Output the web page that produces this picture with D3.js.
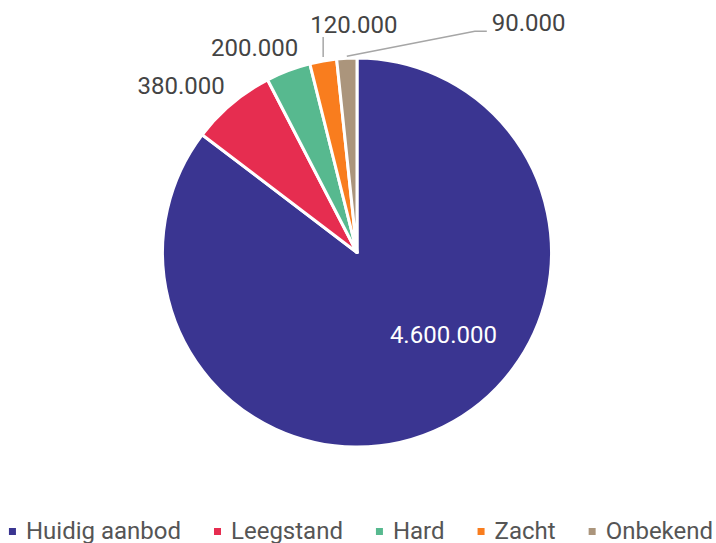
<!DOCTYPE html>
<html>
<head>
<meta charset="utf-8">
<script src="https://cdn.jsdelivr.net/npm/d3@7"></script>
<style>
  body { margin: 0; background: #fff; }
  text { font-family: Roboto, "Noto Sans", sans-serif; }
</style>
</head>
<body>
<div id="chart"></div>
<script>
const width = 716;
const height = 543;

// data
const categories = ["Huidig aanbod", "Leegstand", "Hard", "Zacht", "Onbekend"];
const values = [4600000, 380000, 200000, 120000, 90000];
const valueLabels = ["4.600.000", "380.000", "200.000", "120.000", "90.000"];
const colors = ["#3a3591", "#e62d50", "#57b98f", "#f97d1e", "#ab957c"];

// label placement relative to the slice's outer-edge midpoint
const labelLayout = [
    { dx: 0, dy: -84, anchor: "middle", fill: "#fff", leader: null },
    { dx: -7, dy: -10, anchor: "end", fill: "#444", leader: null },
    { dx: 10, dy: -15, anchor: "end", fill: "#444", leader: null },
    { dx: -13, dy: -28, anchor: "start", fill: "#444", leader: [[0, -4], [0, -24]] },
    { dx: 145, dy: -27, anchor: "start", fill: "#444", leader: [[0, -2], [128, -27], [140, -27]] }
];

const cx = 357;
const cy = 252.5;
const radius = 194.5;

const svg = d3.select("#chart")
    .append("svg")
    .attr("width", width)
    .attr("height", height);

const data = categories.map((c, i) => ({ category: c, value: values[i], label: valueLabels[i], i: i }));

const pie = d3.pie()
    .value(d => d.value)
    .sort(null);

const arcs = pie(data);

const arc = d3.arc()
    .innerRadius(0)
    .outerRadius(radius);

const edgeArc = d3.arc()
    .innerRadius(radius)
    .outerRadius(radius);

const color = d3.scaleOrdinal()
    .domain(categories)
    .range(colors);

const g = svg.append("g")
    .attr("transform", `translate(${cx},${cy})`);

g.selectAll("path.slice")
    .data(arcs)
    .enter()
    .append("path")
    .attr("class", "slice")
    .attr("d", arc)
    .attr("fill", d => color(d.data.category))
    .attr("stroke", "#fff")
    .attr("stroke-width", 3)
    .attr("stroke-linejoin", "round");

// leader lines
arcs.forEach((d, i) => {
    const lay = labelLayout[i];
    if (!lay.leader) return;
    const [px, py] = edgeArc.centroid(d);
    g.append("path")
        .attr("d", d3.line()(lay.leader.map(p => [px + p[0], py + p[1]])))
        .attr("fill", "none")
        .attr("stroke", "#a6a6a6")
        .attr("stroke-width", 1.5);
});

g.selectAll("text.value")
    .data(arcs)
    .enter()
    .append("text")
    .attr("class", "value")
    .attr("x", d => edgeArc.centroid(d)[0] + labelLayout[d.data.i].dx)
    .attr("y", d => edgeArc.centroid(d)[1] + labelLayout[d.data.i].dy)
    .attr("text-anchor", d => labelLayout[d.data.i].anchor)
    .attr("fill", d => labelLayout[d.data.i].fill)
    .style("font-size", "24px")
    .text(d => d.data.label);

// legend
const legend = svg.append("g")
    .attr("class", "legend");

const items = legend.selectAll("g.item")
    .data(categories)
    .enter()
    .append("g")
    .attr("class", "item");

items.append("rect")
    .attr("width", 7)
    .attr("height", 7)
    .attr("y", -11)
    .attr("fill", d => color(d));

items.append("text")
    .attr("x", 17)
    .attr("y", 0)
    .attr("fill", "#555")
    .style("font-size", "24px")
    .text(d => d);

let xPos = 0;
const gap = 33;
items.each(function () {
    const w = 17 + d3.select(this).select("text").node().getComputedTextLength();
    d3.select(this).attr("transform", `translate(${xPos},0)`);
    xPos += w + gap;
});
const totalW = xPos - gap;
legend.attr("transform", `translate(${(width - totalW) / 2 + 3},539)`);
</script>
</body>
</html>
